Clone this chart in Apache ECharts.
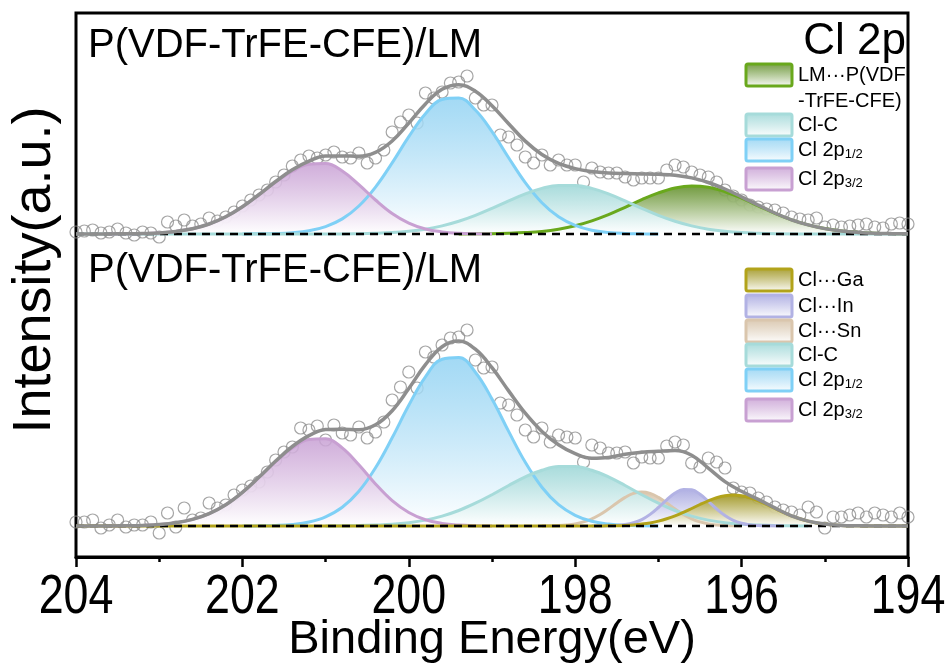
<!DOCTYPE html>
<html>
<head>
<meta charset="utf-8">
<title>Cl 2p XPS</title>
<script src="https://cdn.jsdelivr.net/npm/echarts@6/dist/echarts.min.js"></script>
<style>
  html, body { margin: 0; padding: 0; background: #fff; }
  #chart { width: 952px; height: 670px; }
</style>
</head>
<body>
<div id="chart"></div>
<script>
// binding energy grid of the measured points (eV)
const energy = [204.0,203.9,203.8,203.7,203.6,203.5,203.4,203.3,203.2,203.1,
  203.0,202.9,202.8,202.7,202.6,202.5,202.4,202.3,202.2,202.1,
  202.0,201.9,201.8,201.7,201.6,201.5,201.4,201.3,201.2,201.1,
  201.0,200.9,200.8,200.7,200.6,200.5,200.4,200.3,200.2,200.1,
  200.0,199.9,199.8,199.7,199.6,199.5,199.4,199.3,199.2,199.1,
  199.0,198.9,198.8,198.7,198.6,198.5,198.4,198.3,198.2,198.1,
  198.0,197.9,197.8,197.7,197.6,197.5,197.4,197.3,197.2,197.1,
  197.0,196.9,196.8,196.7,196.6,196.5,196.4,196.3,196.2,196.1,
  196.0,195.9,195.8,195.7,195.6,195.5,195.4,195.3,195.2,195.1,
  195.0,194.9,194.8,194.7,194.6,194.5,194.4,194.3,194.2,194.1,194.0]

// upper panel: P(VDF-TrFE-CFE)/LM, raw counts (a.u.)
const topRaw = [2,3,4,1,2,5,1,-1,2,1,
  -3,12,8,14,8,10,16,13,17,22,
  28,34,39,44,52,59,68,74,78,76,
  79,82,77,76,81,71,76,84,102,112,
  119,111,141,136,142,151,152,158,136,129,
  129,99,97,89,77,71,79,69,74,69,
  69,52,66,62,61,61,57,54,56,56,
  56,64,69,67,62,59,57,52,44,38,
  34,29,27,25,24,21,17,15,14,16,
  7,9,7,8,9,10,7,6,10,11,10]

const topEnvelope = [[204.0,0],[203.8,0],[203.6,0.1],[203.4,0.2],[203.2,0.5],[203.0,1.1],[202.8,2.6],[202.6,5.3],[202.4,10.0],[202.2,17.2],[202.0,27.2],[201.8,39.5],[201.6,52.5],[201.4,64.2],[201.2,72.9],[201.0,78.0],[200.8,78.1],[200.6,77.7],[200.4,81.6],[200.2,93.0],[200.0,110.9],[199.8,130.1],[199.6,144.7],[199.4,149.3],[199.2,142.8],[199.0,128.3],[198.8,110.3],[198.6,92.9],[198.4,79.5],[198.2,70.6],[198.0,65.4],[197.8,62.5],[197.6,61.0],[197.4,60.4],[197.2,60.1],[197.0,59.7],[196.8,58.7],[196.6,56.1],[196.4,51.5],[196.2,45.0],[196.0,37.2],[195.8,28.9],[195.6,21.0],[195.4,14.2],[195.2,9.1],[195.0,5.4],[194.8,3.0],[194.6,1.6],[194.4,0.8],[194.2,0.4],[194.0,0.2]]

const topP32 = [[203.6,0],[203.4,0.2],[203.2,0.5],[203.0,1.1],[202.8,2.6],[202.6,5.3],[202.4,10.0],[202.2,17.2],[202.0,27.2],[201.8,39.3],[201.6,52.0],[201.4,62.9],[201.2,69.7],[201.0,70.4],[200.8,63.0],[200.6,49.4],[200.4,34.0],[200.2,20.5],[200.0,10.9],[199.8,5.0],[199.6,2.1],[199.4,0.7],[199.2,0.2],[199.0,0]]
const topP12 = [[202.0,0],[201.8,0.2],[201.6,0.5],[201.4,1.3],[201.2,3.2],[201.0,7.4],[200.8,15.1],[200.6,28.0],[200.4,46.9],[200.2,71.1],[200.0,97.3],[199.8,120.3],[199.6,134.5],[199.4,135.9],[199.2,124.0],[199.0,102.4],[198.8,76.3],[198.6,51.4],[198.4,31.3],[198.2,17.2],[198.0,8.6],[197.8,3.8],[197.6,1.6],[197.4,0.6],[197.2,0.2],[197.0,0]]
const topClC = [[204.0,0],[201.0,0],[200.6,0.3],[200.4,0.7],[200.2,1.4],[200.0,2.7],[199.8,4.8],[199.6,8.1],[199.4,12.7],[199.2,18.6],[199.0,25.6],[198.8,33.1],[198.6,40.1],[198.4,45.6],[198.2,48.6],[198.0,48.6],[197.8,45.6],[197.6,40.1],[197.4,33.1],[197.2,25.6],[197.0,18.6],[196.8,12.7],[196.6,8.1],[196.4,4.8],[196.2,2.7],[196.0,1.4],[195.8,0.7],[195.6,0.3],[195.2,0],[194.0,0]]
const topLM = [[199.4,0],[199.0,0.3],[198.8,0.7],[198.6,1.4],[198.4,2.6],[198.2,4.8],[198.0,8.2],[197.8,13.1],[197.6,19.3],[197.4,26.7],[197.2,34.3],[197.0,41.1],[196.8,46.0],[196.6,48.0],[196.4,46.7],[196.2,42.3],[196.0,35.8],[195.8,28.2],[195.6,20.7],[195.4,14.2],[195.2,9.1],[195.0,5.4],[194.8,3.0],[194.6,1.6],[194.4,0.8],[194.2,0.4],[194.0,0.2]]

// lower panel
const botRaw = [4,4,6,-2,1,6,-1,1,1,4,
  -7,13,-1,18,6,8,23,18,21,31,
  36,40,44,54,66,74,79,98,96,100,
  86,101,93,91,99,88,94,104,126,139,
  154,138,174,169,181,188,189,196,166,158,
  159,123,121,111,96,89,98,84,91,89,
  88,64,81,78,73,73,74,63,69,68,
  68,80,84,81,63,59,68,64,58,38,
  34,33,28,24,19,16,14,11,19,14,
  -2,9,9,11,13,9,13,11,9,13,9]

const botEnvelope = [[204.0,0],[203.8,0],[203.6,0],[203.4,0.2],[203.2,0.6],[203.0,1.4],[202.8,3.2],[202.6,6.6],[202.4,12.4],[202.2,21.3],[202.0,33.7],[201.8,48.9],[201.6,65.0],[201.4,79.5],[201.2,90.4],[201.0,96.4],[200.8,96.8],[200.6,96.3],[200.4,101.2],[200.2,115.3],[200.0,137.5],[199.8,161.3],[199.6,179.3],[199.4,184.9],[199.2,176.8],[199.0,158.3],[198.8,135.1],[198.6,112.8],[198.4,94.6],[198.2,81.2],[198.0,72.3],[197.8,67.7],[197.6,68.5],[197.4,71.8],[197.2,73.8],[197.0,74.8],[196.8,75.5],[196.6,70.8],[196.4,57.9],[196.2,44.4],[196.0,34.7],[195.8,26.6],[195.6,18.1],[195.4,10.1],[195.2,4.9],[195.0,1.9],[194.8,0.6],[194.6,0.2],[194.4,0],[194.2,0],[194.0,0]]

const botP32 = [[203.6,0],[203.4,0.2],[203.2,0.6],[203.0,1.4],[202.8,3.2],[202.6,6.6],[202.4,12.4],[202.2,21.3],[202.0,33.7],[201.8,48.7],[201.6,64.4],[201.4,77.9],[201.2,86.4],[201.0,87.2],[200.8,78.1],[200.6,61.2],[200.4,42.1],[200.2,25.4],[200.0,13.5],[199.8,6.2],[199.6,2.6],[199.4,0.9],[199.2,0.2],[199.0,0]]
const botP12 = [[202.0,0],[201.8,0.2],[201.6,0.6],[201.4,1.6],[201.2,4.0],[201.0,9.2],[200.8,18.7],[200.6,34.7],[200.4,58.2],[200.2,88.2],[200.0,120.7],[199.8,149.2],[199.6,166.8],[199.4,168.5],[199.2,153.8],[199.0,127.0],[198.8,94.6],[198.6,63.7],[198.4,38.8],[198.2,21.3],[198.0,10.7],[197.8,4.7],[197.6,2.0],[197.4,0.7],[197.2,0.2],[197.0,0]]
const botClC = [[201.0,0],[200.6,0.4],[200.4,0.9],[200.2,1.7],[200.0,3.3],[199.8,5.9],[199.6,9.9],[199.4,15.5],[199.2,22.8],[199.0,31.3],[198.8,40.5],[198.6,49.1],[198.4,55.8],[198.2,59.5],[198.0,59.5],[197.8,55.8],[197.6,49.1],[197.4,40.5],[197.2,31.3],[197.0,22.8],[196.8,15.5],[196.6,9.9],[196.4,5.9],[196.2,3.3],[196.0,1.7],[195.8,0.9],[195.6,0.4],[195.2,0]]
const botSn = [[198.4,0],[198.3,0.2],[198.2,0.4],[198.1,1.0],[198.0,2.1],[197.9,4.1],[197.8,7.2],[197.7,11.5],[197.6,17.0],[197.5,23.0],[197.4,28.6],[197.3,32.6],[197.2,34.0],[197.1,32.6],[197.0,28.6],[196.9,23.0],[196.8,17.0],[196.7,11.5],[196.6,7.2],[196.5,4.1],[196.4,2.1],[196.3,1.0],[196.2,0.4],[196.1,0.2],[196.0,0]]
const botIn = [[197.8,0],[197.6,0.2],[197.5,0.5],[197.4,1.4],[197.3,3.2],[197.2,6.4],[197.1,11.6],[197.0,18.5],[196.9,26.2],[196.8,32.9],[196.7,36.6],[196.6,36.2],[196.5,31.7],[196.4,24.7],[196.3,17.0],[196.2,10.4],[196.1,5.6],[196.0,2.7],[195.9,1.1],[195.8,0.5],[195.7,0.2],[195.5,0]]
const botGa = [[204.0,0],[197.8,0],[197.6,0.2],[197.5,0.3],[197.4,0.6],[197.3,1.1],[197.2,1.9],[197.1,3.1],[197.0,4.9],[196.9,7.2],[196.8,10.1],[196.7,13.6],[196.6,17.5],[196.5,21.5],[196.4,25.2],[196.3,28.3],[196.2,30.3],[196.1,31.0],[196.0,30.3],[195.9,28.3],[195.8,25.2],[195.7,21.5],[195.6,17.5],[195.5,13.6],[195.4,10.1],[195.3,7.2],[195.2,4.9],[195.1,3.1],[195.0,1.9],[194.9,1.1],[194.8,0.6],[194.7,0.3],[194.6,0.2],[194.4,0],[194.0,0]]

const xTickLabels = [204, 202, 200, 198, 196, 194]

const FONT = "'Liberation Sans', Arial, sans-serif"

const colors = {
  p32: ['#c8a0d2', 'rgba(200,160,212,0.85)'],
  p12: ['#7fd0f6', 'rgba(140,208,242,0.8)'],
  clc: ['#a6dbda', 'rgba(160,216,216,0.9)'],
  lm:  ['#69a81c', 'rgba(100,145,45,0.9)'],
  sn:  ['#dac6ad', 'rgba(214,194,168,0.9)'],
  inn: ['#b2b2e4', 'rgba(168,168,224,0.9)'],
  ga:  ['#b2a31a', 'rgba(158,148,30,0.9)']
}

function grad(c) {
  return new echarts.graphic.LinearGradient(0, 0, 0, 1, [
    { offset: 0, color: c },
    { offset: 1, color: '#ffffff' }
  ])
}

function comp(data, idx, c) {
  return {
    type: 'line', xAxisIndex: idx, yAxisIndex: idx, data: data,
    smooth: 0.4, symbol: 'none', clip: false,
    lineStyle: { color: c[0], width: 3 },
    areaStyle: { color: grad(c[1]), opacity: 1 }
  }
}

function raw(vals, idx) {
  return {
    type: 'scatter', xAxisIndex: idx, yAxisIndex: idx, clip: false,
    data: energy.map((e, i) => [e, vals[i]]),
    symbol: 'circle', symbolSize: 12,
    itemStyle: { color: 'rgba(255,255,255,0)', borderColor: '#8f8f8f', borderWidth: 1.2 }
  }
}

function fit(data, idx) {
  return {
    type: 'line', xAxisIndex: idx, yAxisIndex: idx, data: data,
    smooth: 0.4, symbol: 'none', clip: false,
    lineStyle: { color: '#8e8e8e', width: 3.5 }
  }
}

function baseline(idx) {
  return {
    type: 'line', xAxisIndex: idx, yAxisIndex: idx,
    data: [[204, 0], [194, 0]], symbol: 'none',
    lineStyle: { color: '#000', width: 2.5, type: [8, 6] }
  }
}

// legend drawn by hand: box + label
function legendItem(cy, c, label) {
  return [
    { type: 'rect', shape: { x: 746, y: cy - 11, width: 46, height: 22, r: 2 },
      style: { fill: grad(c[1]), stroke: c[0], lineWidth: 3 } },
    { type: 'text', x: 798, y: cy,
      style: { text: label, fill: '#000', font: '20px ' + FONT, verticalAlign: 'middle',
        rich: { s: { fontSize: 13, fontFamily: FONT, padding: [9, 0, 0, 0] } } } }
  ]
}

const chart = echarts.init(document.getElementById('chart'))

const option = {
  animation: false,
  backgroundColor: '#fff',
  grid: [
    { left: 76, top: 13, width: 832, height: 544, show: true, borderColor: '#000', borderWidth: 3 },
    { left: 76, top: 13, width: 832, height: 235 },
    { left: 76, top: 248, width: 832, height: 309 }
  ],
  xAxis: [
    {
      gridIndex: 0, type: 'value', min: 194, max: 204, interval: 2, inverse: true,
      axisLine: { show: true, lineStyle: { color: '#000', width: 3 } },
      axisTick: { show: true, inside: false, length: 10, lineStyle: { color: '#000', width: 2.5 } },
      minorTick: { show: true, splitNumber: 2, length: 5, lineStyle: { color: '#000', width: 2.5 } },
      axisLabel: { show: false },   // drawn below, condensed like the original
      splitLine: { show: false },
      name: 'Binding Energy(eV)', nameLocation: 'middle', nameGap: 60,
      nameTextStyle: { fontSize: 47, fontFamily: FONT, color: '#000' }
    },
    { gridIndex: 1, type: 'value', min: 194, max: 204, inverse: true, show: false },
    { gridIndex: 2, type: 'value', min: 194, max: 204, inverse: true, show: false }
  ],
  yAxis: [
    { gridIndex: 0, type: 'value', min: 0, max: 1, show: false },
    { gridIndex: 1, type: 'value', min: -14, max: 221, show: false },
    { gridIndex: 2, type: 'value', min: -31, max: 278, show: false }
  ],
  series: [
    // upper panel
    comp(topLM, 1, colors.lm),
    comp(topP12, 1, colors.p12),
    comp(topClC, 1, colors.clc),
    comp(topP32, 1, colors.p32),
    baseline(1),
    fit(topEnvelope, 1),
    raw(topRaw, 1),
    // lower panel
    comp(botSn, 2, colors.sn),
    comp(botP12, 2, colors.p12),
    comp(botClC, 2, colors.clc),
    comp(botP32, 2, colors.p32),
    comp(botIn, 2, colors.inn),
    comp(botGa, 2, colors.ga),
    baseline(2),
    fit(botEnvelope, 2),
    raw(botRaw, 2)
  ],
  graphic: [
    { type: 'text', x: 88, y: 46, style: { text: 'P(VDF-TrFE-CFE)/LM', fill: '#000', font: '40px ' + FONT, verticalAlign: 'middle' } },
    { type: 'text', x: 88, y: 271, style: { text: 'P(VDF-TrFE-CFE)/LM', fill: '#000', font: '40px ' + FONT, verticalAlign: 'middle' } },
    { type: 'text', x: 906, y: 42, style: { text: 'Cl 2p', fill: '#000', font: '44px ' + FONT, align: 'right', verticalAlign: 'middle' } },
    { type: 'text', x: 35, y: 270, rotation: Math.PI / 2,
      style: { text: 'Intensity(a.u.)', fill: '#000', font: '54px ' + FONT, align: 'center', verticalAlign: 'middle' } },
    ...legendItem(75, colors.lm, 'LM···P(VDF'),
    { type: 'text', x: 798, y: 101, style: { text: '-TrFE-CFE)', fill: '#000', font: '20px ' + FONT, verticalAlign: 'middle' } },
    ...legendItem(125, colors.clc, 'Cl-C'),
    ...legendItem(150, colors.p12, 'Cl 2p{s|1/2}'),
    ...legendItem(179, colors.p32, 'Cl 2p{s|3/2}'),
    ...legendItem(280, colors.ga, 'Cl···Ga'),
    ...legendItem(306, colors.inn, 'Cl···In'),
    ...legendItem(331, colors.sn, 'Cl···Sn'),
    ...legendItem(355, colors.clc, 'Cl-C'),
    ...legendItem(380, colors.p12, 'Cl 2p{s|1/2}'),
    ...legendItem(410, colors.p32, 'Cl 2p{s|3/2}')
  ]
}

chart.setOption(option)

// tick labels placed through the axis scale, horizontally condensed
const axisY = chart.convertToPixel({ yAxisIndex: 0 }, 0)
const tickTexts = xTickLabels.map(v => ({
  type: 'text',
  x: chart.convertToPixel({ xAxisIndex: 0 }, v),
  y: axisY + 41,
  scaleX: 0.8,
  style: { text: String(v), fill: '#000', font: '56px ' + FONT, align: 'center', verticalAlign: 'middle' }
}))
chart.setOption({ graphic: option.graphic.concat(tickTexts) })
</script>
</body>
</html>
